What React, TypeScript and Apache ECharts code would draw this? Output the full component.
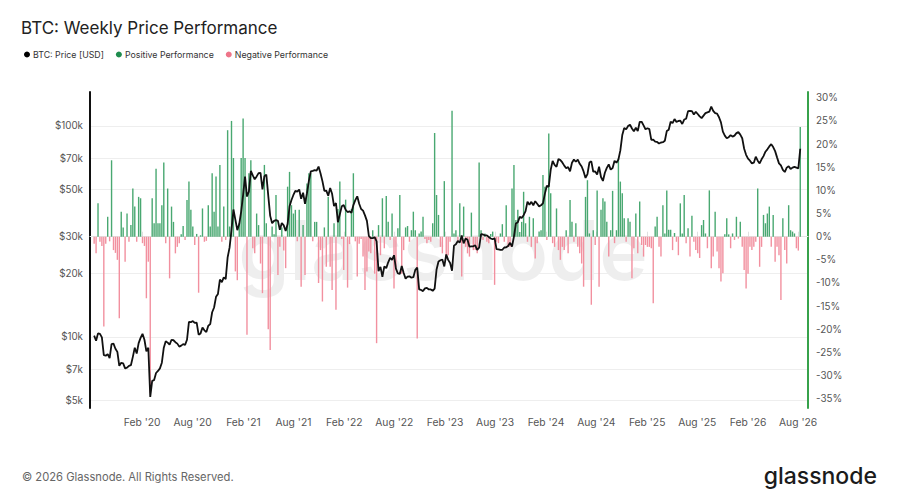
import React, { useEffect, useRef } from 'react';
import * as echarts from 'echarts';

// ---------- data ----------
const START_DATE = '2019-08-11';
const WEEK_MS = 7 * 24 * 3600 * 1000;
const X_MIN_DATE = '2019-07-27';
const X_MAX_DATE = '2026-09-06';

// weekly BTC price [USD]
const PRICE_2019_2020 = [
  10150, 9600, 10400, 10350, 9950, 8200, 8150, 8300, 7950,
  9250, 9300, 8800, 8500, 7300, 7550, 7500, 7100, 7150, 7300,
  7350, 8050, 8900, 8350, 9350, 9900, 10350, 9700, 8550, 8900,
  5200, 6200, 6250, 6750, 6900, 7100, 7550, 8900, 9550, 9400,
  9200, 9700, 9650, 9450, 9300, 9000, 9100, 9250, 9170, 9700,
  11800, 11750, 11900, 11650, 11700, 10250, 10400, 11100, 10750, 10550,
  11300, 11500, 13100, 13800, 15500, 16000, 18700, 18200, 19150, 18800,
  23850, 26500,
];
const PRICE_2021 = [
  32200, 40200, 36000, 32100, 34300, 39300, 47200, 57500,
  46300, 48900, 61200, 58300, 55900, 57700, 59800, 60000, 50100, 57800,
  58800, 46800, 37500, 34600, 35500, 35800, 35500, 32200, 34700, 33800,
  31800, 34300, 41600, 44600, 47100, 49300, 48900, 50000, 45200, 48300,
  42800, 48000, 55000, 60900, 61300, 61800, 61500, 64200, 59700, 54800,
  49300, 49400, 46700, 50800,
];
const PRICE_2022 = [
  47700, 41700, 43100, 35000, 38200, 41600,
  42200, 40100, 39100, 39400, 38800, 42200, 44500, 46400, 42800, 40400,
  39700, 37700, 35500, 30100, 29400, 29400, 29700, 28400, 20500, 21500,
  19300, 21600, 21200, 22600, 23700, 23200, 24400, 21100, 20000, 19900,
  21700, 20100, 18900, 19300, 19400, 19100, 19200, 20800, 21300, 16800,
  16700, 16500, 17000, 17100, 16800, 16800,
];
const PRICE_2023 = [
  16550, 16950, 20900, 22800,
  23100, 23300, 21600, 24600, 23200, 22400, 20600, 27100, 27500, 28500,
  28000, 30300, 27800, 29300, 28900, 26800, 26900, 26900, 27200, 25900,
  26500, 30700, 30600, 30300, 30300, 29800, 29300, 29050, 29400, 26100,
  26000, 25850, 25900, 26550, 26600, 27000, 27950, 26850, 29900, 34500,
  35000, 37100, 36600, 37800, 39500, 43800, 42300, 43700, 42100,
];
const PRICE_2024 = [
  44000, 42800, 41600, 42100, 43000, 47800, 52100, 51600, 62000, 68300, 65400,
  64100, 69700, 68900, 67200, 64900, 63100, 63800, 61000, 67000, 69300,
  67700, 69300, 66200, 64300, 60900, 56700, 59200, 67100, 68000, 60700,
  60900, 58900, 64100, 57300, 54900, 60000, 63300, 65800, 62100, 63200,
  68400, 67000, 69400, 76600, 90600, 97800, 96400, 99900, 101400, 97300,
  94300,
];
const PRICE_2025 = [
  98100, 94700, 104500, 104700, 100600, 96500, 97600, 96600, 86000,
  86200, 84300, 84000, 82600, 83500, 83800, 85100, 94600, 96000, 104700,
  103200, 107800, 104600, 105600, 105900, 102200, 107300, 108200, 117600, 118000,
  117600, 113300, 116700, 114000, 111000, 109000, 112000, 115000, 116000, 117000,
  123500, 118000, 115000, 114500, 110000, 104000, 94000, 90000, 87500, 88500,
  90500, 89000, 90000, 92500, 93500, 91000,
];
const PRICE_2026 = [
  87500, 78000, 73000, 70000, 68500, 66500, 67000, 71500, 68500, 66500,
  69500, 72000, 75500, 77500, 80000, 82000, 79500, 76000, 71000, 66500,
  65000, 62000, 60500, 63500, 64500, 62500, 63500, 64000, 63500, 63000,
  78000,
];

// weekly price performance [%]
const PERF_2019_2020 = [
  -1.5, -3.6, 7.2, -1.1, -2.0, -19.4, -1.5, 4.3, -1.0, 16.5,
  -2.9, -3.5, -5.0, -17.6, 5.4, 2.0, -5.4, 5.0, -1.1, 2.5,
  10.4, 6.5, -1.1, 8.6, 8.3, -1.4, -2.0, -13.3, -5.4, -33.8,
  8.3, 2.9, 14.7, 2.9, 2.9, 6.8, 16.0, -1.4, 10.4, -9.0,
  6.5, 3.2, -3.6, -2.2, -1.4, 0.5, 2.3, -0.7, 7.9, 11.9,
  5.8, 2.2, -1.8, 0.6, -12.1, 0.3, 6.1, -1.1, -0.9, 6.8,
  2.2, 13.7, 5.4, 13.0, 2.2, 15.5, -1.1, 6.5, -0.7, 23.0,
  2.2, 25.0,
];
const PERF_2021_2022 = [
  17, -7.5, -9.4, 2.5, 17, 25.5, 17, -21.2, 13.7, 16.5,
  -2.5, -3.6, 5, 2.5, -5.8, -12.2, 15.5, 2.9, -20, -24.5,
  2.2, 0.5, 9, -8.3, -2.2, 2, -3, -6.8, 10.8, 14,
  6.8, 5, 5.8, -1, 5.8, -10.8, 2.5, -8.3, 11.5, 13.7,
  13.7, -1, 3.2, 3.2, -10, -2.9, -14, 2, -6.5, 8.6,
  -6.5, -11.5, 2.9, -15.8, 6, 11.9, -0.5, -7.2, 8, -11,
  -1.6, 6, 13.7, -1, -8.6, -1.5, -0.5, -4.3, -11.5, -7.5,
  -3.2, -3.6, 1.4, -8, -23,
];
const PERF_2022_2023 = [
  2.5, -4, 8.3, -2.5, 8.8, 3.2, -0.7, 5, -11.2, -6.5,
  1.8, 9, -8, -2.9, 2, 2.3, -1.1, 1.4, 5.4, 1.4,
  -22, 0.7, 1.1, 4.3, -0.5, -1.4, -0.7, -1.1, 2.9, 22.4,
  9, 4.7, -2.2, -3.6, 12, -4.3, -4, -1.1, 27.2, 0.7,
  1.4, -1.1, 7.2, -8.6, 6.5, -2.2, -3.6, -4.3, 5.2, -2.9,
  -2.9, -3.6, 16, 1.4, -0.7, 0.7, -1.1, -1.4, 0.6, 1.1,
  -10.4, -1.1, -1.4, 0.7, 2.7, -1.1, 6.8, -2.2, -2.2, 10.4,
  15.5, 3.6, 5.8, 1, 3.2,
];
const PERF_2023_2025 = [
  9.7, 2.9, -1.1, 4.3, -2.2, 4, -4.7, -1.4, 1.1, 1.4,
  13.3, 10.8, -0.7, 22.3, 9.4, -1.4, -2.2, 6.1, -2.9, -5,
  -2.2, -2.9, 1.4, -3.6, 7.9, 3.2, -1.1, 2.9, -2.2, -3.6,
  -5.8, -10.8, 8.6, 12.2, 0.7, -14.7, 1.4, -1.8, 10, -10.8,
  5.8, 8.3, 7.6, 3.2, -4.3, 1.4, 9.9, -1.4, 1.4, 16.9,
  11.9, 9.4, 4, -1.1, 4, 3.2, -9, -2.5, 5, -3.6,
  7.6, -1.8, -4.3, -1.8, -2.2, -2.2, -2.5, -14.4, 2.2, 4.3,
  -2.2, -4.3, 6.8, 0.7, 10,
];
const PERF_2025_2026 = [
  1.5, 1.5, -2.9, 0.8, -1.1, -4, 7.2, 0.7, 9, -1.4,
  1.8, -4.3, 4.5, -1.1, -2.9, -3.6, -4.6, 2.5, 3.6, 0.7,
  -2.5, 10, -6.8, -4.3, 5.4, -3.2, -6.8, -9.7, -7.9, 0.5,
  4, 0.5, -2.5, 0.7, -0.7, 4.3, -0.4, 3.2, -2.2, -7.2,
  -11.2, -8, -2.2, -2.9, -2.2, -1.1, 10.4, -6.5, -2.2, 4.7,
  2.9, 5, 6.5, -2.2, 4.7, -5.4, -2.2, -4, -13.7, 4,
  -2.9, -5.8, 6.8, 1.4, 1.1, 0.7, -2.5, -3, 23.7,
];

const X_TICK_DATES = [
  '2020-02-01', '2020-08-01', '2021-02-01', '2021-08-01', '2022-02-01', '2022-08-01',
  '2023-02-01', '2023-08-01', '2024-02-01', '2024-08-01', '2025-02-01', '2025-08-01',
  '2026-02-01', '2026-08-01',
];
const X_TICK_LABELS = [
  "Feb '20", "Aug '20", "Feb '21", "Aug '21", "Feb '22", "Aug '22",
  "Feb '23", "Aug '23", "Feb '24", "Aug '24", "Feb '25", "Aug '25",
  "Feb '26", "Aug '26",
];
const PRICE_TICKS = [5000, 7000, 10000, 20000, 30000, 50000, 70000, 100000];
const PRICE_TICK_LABELS = ['$5k', '$7k', '$10k', '$20k', '$30k', '$50k', '$70k', '$100k'];
const PCT_TICKS = [-35, -30, -25, -20, -15, -10, -5, 0, 5, 10, 15, 20, 25, 30];

const PRICE_MIN = 4607;
const PRICE_MAX = 144900;
const PCT_MIN = -37;
const PCT_MAX = 31.25;

const GREEN_BAR = '#49a871';
const PINK_BAR = '#f2909f';
const GREEN_LEGEND = '#1e8c4e';
const PINK_LEGEND = '#ee7589';
const FONT = 'Inter, "Noto Sans", sans-serif';

export default function App() {
  const ref = useRef<HTMLDivElement>(null);

  useEffect(() => {
    document.body.style.margin = '0';
    if (!ref.current) return;
    const chart = echarts.init(ref.current, null, { renderer: 'svg' });

    const price = [
      ...PRICE_2019_2020, ...PRICE_2021, ...PRICE_2022, ...PRICE_2023,
      ...PRICE_2024, ...PRICE_2025, ...PRICE_2026,
    ];
    const perf = [
      ...PERF_2019_2020, ...PERF_2021_2022, ...PERF_2022_2023,
      ...PERF_2023_2025, ...PERF_2025_2026,
    ];
    const start = Date.parse(START_DATE);
    const n = Math.max(price.length, perf.length);
    const dates: number[] = [];
    for (let i = 0; i < n; i++) dates.push(start + i * WEEK_MS);

    const priceData = price.map((v, i) => [dates[i], v]);
    const posData = perf.map((v, i) => [dates[i], v >= 0 ? v : '-']);
    const negData = perf.map((v, i) => [dates[i], v < 0 ? v : '-']);

    const xTicks = X_TICK_DATES.map((d) => Date.parse(d));
    const xLabel = (val: number) => {
      let best = 0;
      let bd = Infinity;
      xTicks.forEach((t, i) => {
        const d = Math.abs(t - val);
        if (d < bd) { bd = d; best = i; }
      });
      return X_TICK_LABELS[best];
    };
    const priceLabel = (val: number) => {
      let best = 0;
      let bd = Infinity;
      PRICE_TICKS.forEach((t, i) => {
        const d = Math.abs(Math.log(t) - Math.log(val));
        if (d < bd) { bd = d; best = i; }
      });
      return PRICE_TICK_LABELS[best];
    };

    const option: any = {
      animation: false,
      backgroundColor: '#ffffff',
      textStyle: { fontFamily: FONT },
      title: {
        text: 'BTC: Weekly Price Performance',
        left: 16,
        top: 14,
        textStyle: { fontSize: 17, fontWeight: 'normal', color: '#222', fontFamily: FONT },
      },
      legend: {
        left: 19,
        top: 45,
        icon: 'circle',
        itemWidth: 6,
        itemHeight: 6,
        itemGap: 12,
        textStyle: { fontSize: 8.8, color: '#333', fontFamily: FONT, padding: [0, 0, 0, -2] },
        data: [
          { name: 'BTC: Price [USD]', itemStyle: { color: '#000' } },
          { name: 'Positive Performance', itemStyle: { color: GREEN_LEGEND } },
          { name: 'Negative Performance', itemStyle: { color: PINK_LEGEND } },
        ],
      },
      grid: { left: 90, right: 92, top: 92, bottom: 92 },
      xAxis: {
        type: 'value',
        min: Date.parse(X_MIN_DATE),
        max: Date.parse(X_MAX_DATE),
        axisLine: { show: true, lineStyle: { color: '#e4e4e4', width: 1 } },
        axisTick: { show: true, inside: true, length: 5, lineStyle: { color: '#e0e0e0' }, customValues: xTicks },
        axisLabel: { customValues: xTicks, formatter: xLabel, color: '#555', fontSize: 10.3, margin: 9, fontFamily: FONT },
        splitLine: { show: false },
      },
      yAxis: [
        {
          type: 'log',
          logBase: 10,
          min: PRICE_MIN,
          max: PRICE_MAX,
          position: 'left',
          axisLine: { show: true, lineStyle: { color: '#111', width: 2 } },
          axisTick: { show: false, customValues: PRICE_TICKS },
          axisLabel: { customValues: PRICE_TICKS, formatter: priceLabel, color: '#555', fontSize: 9.8, margin: 7, fontFamily: FONT },
          splitLine: { show: true, lineStyle: { color: '#eeeeee', width: 1 } },
        },
        {
          type: 'value',
          min: PCT_MIN,
          max: PCT_MAX,
          position: 'right',
          axisLine: { show: true, lineStyle: { color: '#37a24b', width: 2 } },
          axisTick: { show: false, customValues: PCT_TICKS },
          axisLabel: { customValues: PCT_TICKS, formatter: (v: number) => `${Math.round(v)}%`, color: '#555', fontSize: 9.8, margin: 8, fontFamily: FONT },
          splitLine: { show: false },
        },
      ],
      series: [
        {
          name: 'Positive Performance',
          type: 'bar',
          yAxisIndex: 1,
          data: posData,
          barWidth: 1.4,
          barGap: '-100%',
          itemStyle: { color: GREEN_BAR },
          z: 2,
        },
        {
          name: 'Negative Performance',
          type: 'bar',
          yAxisIndex: 1,
          data: negData,
          barWidth: 1.4,
          barGap: '-100%',
          itemStyle: { color: PINK_BAR },
          z: 2,
        },
        {
          name: 'BTC: Price [USD]',
          type: 'line',
          yAxisIndex: 0,
          data: priceData,
          showSymbol: false,
          symbol: 'none',
          lineStyle: { color: '#111', width: 1.8 },
          itemStyle: { color: '#000' },
          z: 5,
        },
      ],
      graphic: [
        {
          type: 'text',
          x: 443,
          y: 250,
          z: 0,
          silent: true,
          style: {
            text: 'glassnode',
            align: 'center',
            verticalAlign: 'middle',
            textAlign: 'center',
            textVerticalAlign: 'middle',
            fontSize: 82,
            fontWeight: 600,
            fontFamily: FONT,
            fill: 'rgba(0,0,0,0.065)',
          },
        },
        {
          type: 'text',
          x: 22,
          y: 477,
          style: {
            text: '© 2026 Glassnode. All Rights Reserved.',
            verticalAlign: 'middle',
            textVerticalAlign: 'middle',
            fontSize: 11.2,
            fontFamily: FONT,
            fill: '#666',
          },
        },
        {
          type: 'text',
          x: 877,
          y: 476,
          style: {
            text: 'glassnode',
            align: 'right',
            textAlign: 'right',
            verticalAlign: 'middle',
            textVerticalAlign: 'middle',
            fontSize: 23,
            fontWeight: 500,
            fontFamily: FONT,
            fill: '#1b1b1b',
          },
        },
      ],
    };

    chart.setOption(option);
    return () => chart.dispose();
  }, []);

  return <div ref={ref} style={{ width: 900, height: 500 }} />;
}
